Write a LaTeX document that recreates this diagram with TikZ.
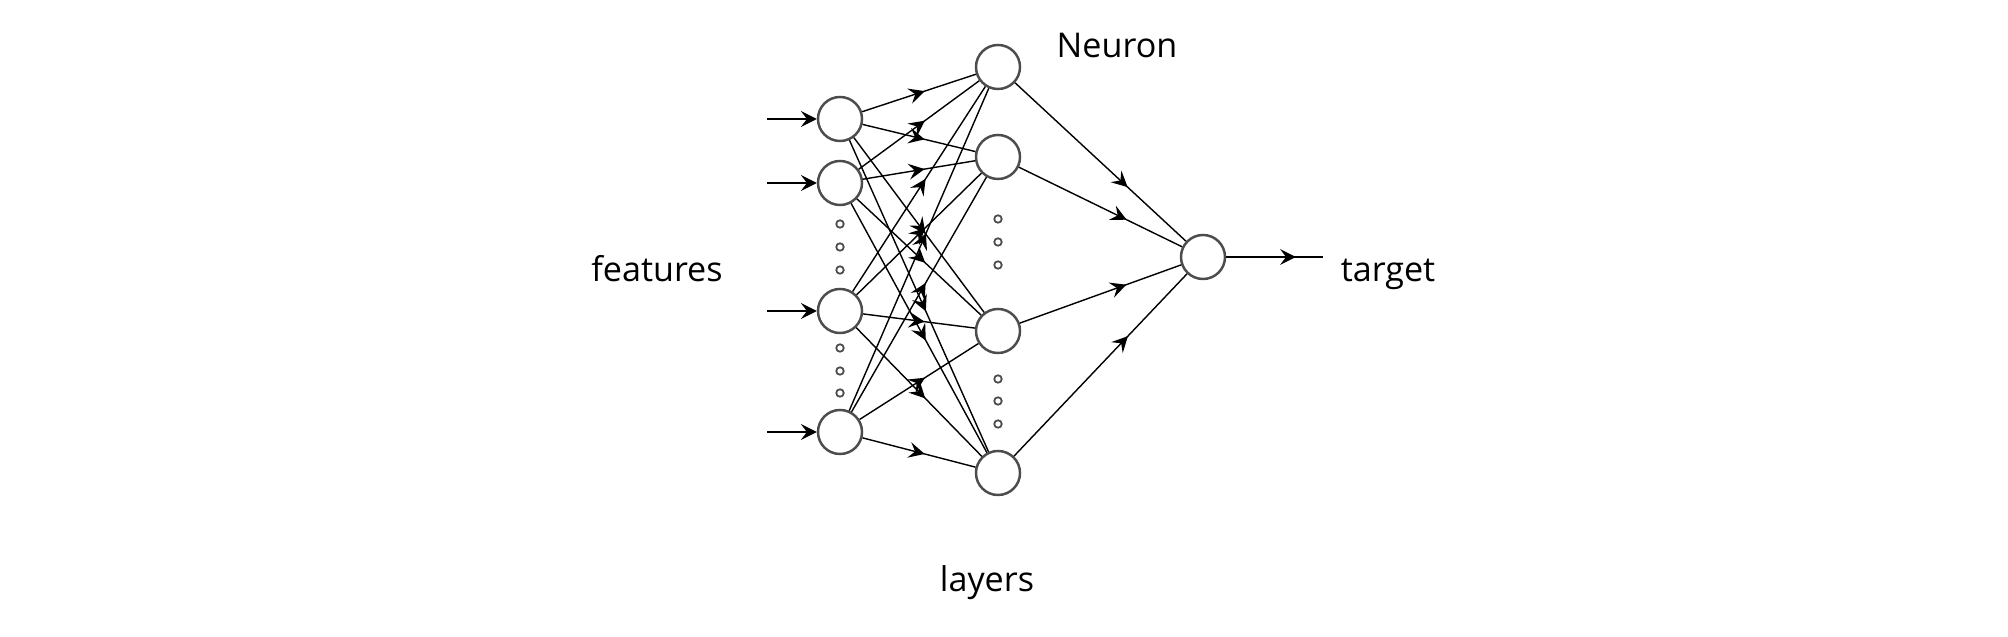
\documentclass[tikz,border=0pt]{standalone}
\usepackage{fontspec}
\setmainfont{Open Sans}
\usetikzlibrary{positioning, arrows.meta, decorations.markings}
\tikzstyle{neuron} = [circle, draw=black!70, line width=0.7pt, minimum size=0.44cm, inner sep=0pt]
\tikzstyle{dot} = [circle, draw=black!70, line width=0.5pt, minimum size=0.075cm, inner sep=0pt]
\tikzstyle{link} = [draw, line width=0.4pt]
\tikzstyle{flow} = [link, postaction={decorate}, decoration={markings, mark=at position #1 with {\arrow{Stealth[length=4.5pt, width=4.5pt, inset=1.7pt]}}}]
\tikzstyle{feed} = [link, -{Stealth[length=4.5pt, width=4.5pt, inset=1.7pt]}]
\tikzstyle{lbl} = [font=\fontsize{9.7}{12}\selectfont, anchor=base]

\begin{document}
\begin{tikzpicture}[x=0.01cm, y=-0.01cm]
        \useasboundingbox (0,0) rectangle (2008,637);
        % Nodes
        \foreach \i/\y in {1/119, 2/183, 3/311, 4/432} {
            \coordinate (src\i) at (767,\y);
            \node (in\i) [neuron] at (840,\y) {};
        }
        \foreach \i/\y in {1/67, 2/157, 3/331, 4/473}
            \node (h\i) [neuron] at (998,\y) {};
        \node (out) [neuron] at (1203,257) {};
        \coordinate (sink) at (1323,257);
        % dots
        \foreach \y [count=\k] in {224, 247, 270}
            \node (da\k) [dot] at (840,\y) {};
        \foreach \y [count=\k] in {348, 371, 393}
            \node (db\k) [dot] at (840,\y) {};
        \foreach \y [count=\k] in {219, 242, 265}
            \node (dc\k) [dot] at (998,\y) {};
        \foreach \y [count=\k] in {379, 401, 424}
            \node (dd\k) [dot] at (998,\y) {};
        % Labels
        \node (features) [lbl] at (657,282) {features};
        \node (neuronlbl) [lbl] at (1117,58) {Neuron};
        \node (layers) [lbl] at (987,592) {layers};
        \node (target) [lbl] at (1388,282) {target};
        % Edges
        \foreach \i in {1,...,4}
            \path [feed] (src\i) -- (in\i);
        \foreach \i in {1,...,4}
            \foreach \j in {1,...,4}
                \path [flow=0.55] (in\i) -- (h\j);
        \foreach \j in {1,...,4}
            \path [flow=0.66] (h\j) -- (out);
        \path [flow=0.72] (out) -- (sink);
\end{tikzpicture}
\end{document}
